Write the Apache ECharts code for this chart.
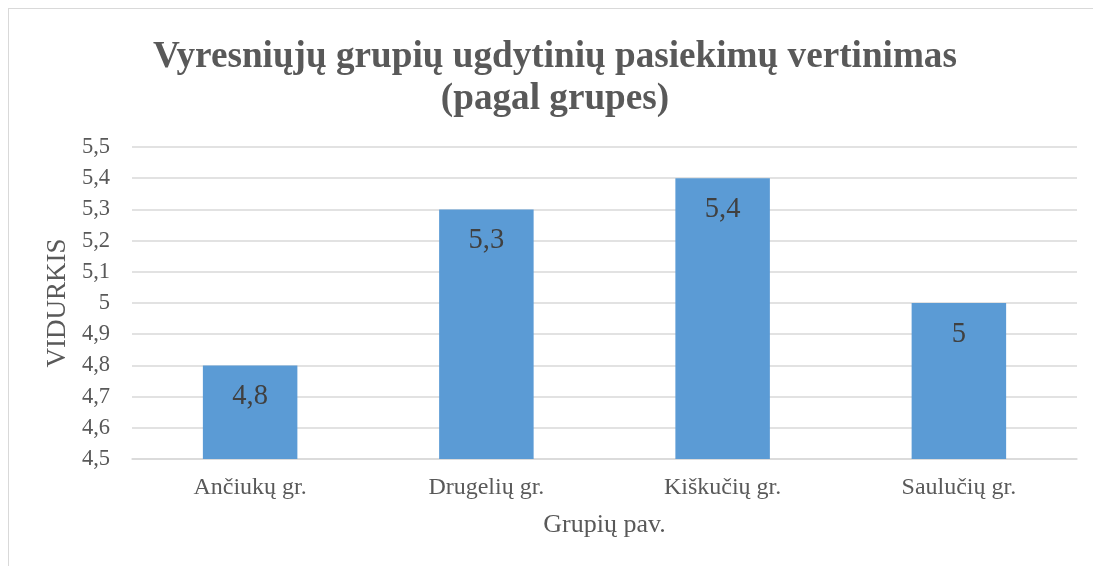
<!DOCTYPE html>
<html>
<head>
<meta charset="utf-8">
<script src="https://cdn.jsdelivr.net/npm/echarts@6/dist/echarts.min.js"></script>
<style>
  html, body { margin: 0; padding: 0; background: #fff; }
  #frame { position: absolute; left: 8px; top: 8px; width: 1200px; height: 700px; border: 1px solid #d9d9d9; }
  #chart { position: absolute; left: 0; top: 0; width: 1093px; height: 566px; }
</style>
</head>
<body>
<div id="frame"></div>
<div id="chart"></div>
<script>
const categories = ['Ančiukų gr.', 'Drugelių gr.', 'Kiškučių gr.', 'Saulučių gr.'];
const values = [4.8, 5.3, 5.4, 5.0];
const yMin = 4.5;
const yMax = 5.5;
const yStep = 0.1;

const fmt = v => String(Math.round(v * 10) / 10).replace('.', ',');
const serif = '"Liberation Serif", "Times New Roman", serif';

const chart = echarts.init(document.getElementById('chart'), null, { renderer: 'canvas' });
chart.setOption({
    animation: false,
    title: {
        text: 'Vyresniųjų grupių ugdytinių pasiekimų vertinimas\n(pagal grupes)',
        left: 555,
        top: 36,
        padding: 0,
        textAlign: 'center',
        textStyle: {
            fontFamily: serif,
            fontWeight: 'bold',
            fontSize: 37.2,
            lineHeight: 42,
            color: '#595959'
        }
    },
    grid: { left: 132, right: 16, top: 147, bottom: 107 },
    xAxis: {
        type: 'category',
        data: categories,
        name: 'Grupių pav.',
        nameLocation: 'middle',
        nameGap: 53,
        nameTextStyle: { fontFamily: serif, fontSize: 26, color: '#595959' },
        axisLine: { lineStyle: { color: '#d9d9d9', width: 1.5 } },
        axisTick: { show: false },
        axisLabel: { fontFamily: serif, fontSize: 24, color: '#595959', margin: 17 }
    },
    yAxis: {
        type: 'value',
        min: yMin,
        max: yMax,
        interval: yStep,
        name: 'VIDURKIS',
        nameLocation: 'middle',
        nameGap: 61,
        nameTextStyle: { fontFamily: serif, fontSize: 27, color: '#595959' },
        axisLine: { show: false },
        axisTick: { show: false },
        axisLabel: { fontFamily: serif, fontSize: 22.5, color: '#595959', margin: 22, formatter: fmt },
        splitLine: { lineStyle: { color: '#d9d9d9', width: 1.5 } }
    },
    series: [{
        type: 'bar',
        data: values,
        barWidth: '40%',
        itemStyle: { color: '#5b9bd5' },
        label: {
            show: true,
            position: 'insideTop',
            distance: 17,
            fontFamily: serif,
            fontSize: 28.5,
            color: '#404040',
            formatter: p => fmt(p.value)
        }
    }]
});
</script>
</body>
</html>
